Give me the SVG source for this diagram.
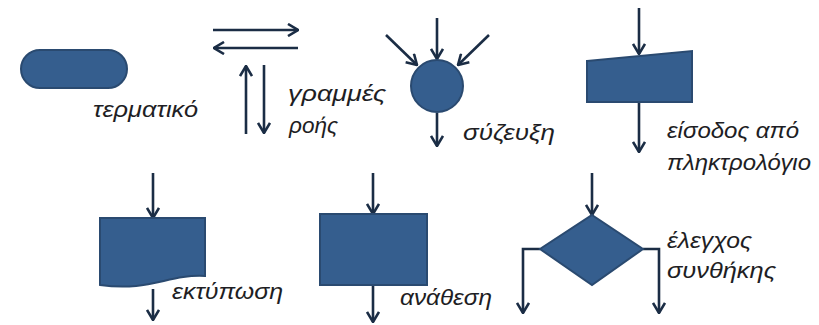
<svg xmlns="http://www.w3.org/2000/svg" width="819" height="325" viewBox="0 0 819 325">
  <style>
    .shape { fill: #355E8E; stroke: #2A4A70; stroke-width: 2; }
    .flow { fill: none; stroke: #1B2D45; stroke-width: 2.6; marker-end: url(#head); }
    .lbl { font-family: "Liberation Sans", "DejaVu Sans", sans-serif; font-style: italic; font-size: 23px; fill: #1E1E24; }
  </style>
  <defs>
    <marker id="head" viewBox="0 0 12 14" refX="11" refY="7" markerWidth="12" markerHeight="14" markerUnits="userSpaceOnUse" orient="auto">
      <path d="M1,1 L11,7 L1,13" fill="none" stroke="#1B2D45" stroke-width="2.6" stroke-linejoin="miter"/>
    </marker>
  </defs>

  <g id="connectors">
    <!-- flow-line samples -->
    <line class="flow" x1="213" y1="30" x2="298" y2="30"/>
    <line class="flow" x1="298" y1="48" x2="214" y2="48"/>
    <line class="flow" x1="246" y1="134" x2="246" y2="66"/>
    <line class="flow" x1="264" y1="65" x2="264" y2="133"/>
    <!-- junction inputs / output -->
    <line class="flow" x1="437" y1="18" x2="437" y2="59"/>
    <line class="flow" x1="386" y1="35" x2="417" y2="65"/>
    <line class="flow" x1="489" y1="35" x2="458" y2="65"/>
    <line class="flow" x1="437" y1="113" x2="437" y2="146"/>
    <!-- keyboard input -->
    <line class="flow" x1="639" y1="8" x2="639" y2="54"/>
    <line class="flow" x1="639" y1="102" x2="639" y2="152"/>
    <!-- print -->
    <line class="flow" x1="153" y1="173" x2="153" y2="218"/>
    <line class="flow" x1="153" y1="289" x2="153" y2="320"/>
    <!-- assignment -->
    <line class="flow" x1="373" y1="173" x2="373" y2="214"/>
    <line class="flow" x1="373" y1="285" x2="373" y2="322"/>
    <!-- condition -->
    <line class="flow" x1="592" y1="173" x2="592" y2="215"/>
    <polyline class="flow" points="540,249 523,249 523,313"/>
    <polyline class="flow" points="643,249 659,249 659,313"/>
  </g>

  <g id="terminal">
    <rect class="shape" x="21" y="50" width="106" height="38" rx="19" ry="19"/>
    <text class="lbl" x="93" y="117" textLength="105" lengthAdjust="spacingAndGlyphs">τερματικό</text>
  </g>

  <g id="flow-lines">
    <text class="lbl" x="288" y="101" textLength="98" lengthAdjust="spacingAndGlyphs">γραμμές</text>
    <text class="lbl" x="289" y="133" textLength="49" lengthAdjust="spacingAndGlyphs">ροής</text>
  </g>

  <g id="junction">
    <circle class="shape" cx="437" cy="86" r="26"/>
    <text class="lbl" x="463" y="140" textLength="92" lengthAdjust="spacingAndGlyphs">σύζευξη</text>
  </g>

  <g id="keyboard-input">
    <polygon class="shape" points="587,61 692,51 692,102 587,102"/>
    <text class="lbl" x="667" y="138" textLength="132" lengthAdjust="spacingAndGlyphs">είσοδος από</text>
    <text class="lbl" x="667" y="170" textLength="144" lengthAdjust="spacingAndGlyphs">πληκτρολόγιο</text>
  </g>

  <g id="print">
    <path class="shape" d="M100,218 L205,218 L205,276 C168,274 150,292 100,285 Z"/>
    <text class="lbl" x="172" y="299" textLength="111" lengthAdjust="spacingAndGlyphs">εκτύπωση</text>
  </g>

  <g id="assignment">
    <rect class="shape" x="320" y="214" width="107" height="71"/>
    <text class="lbl" x="400" y="305" textLength="92" lengthAdjust="spacingAndGlyphs">ανάθεση</text>
  </g>

  <g id="condition">
    <polygon class="shape" points="592,215 643,249 592,285 540,249"/>
    <text class="lbl" x="667" y="248" textLength="85" lengthAdjust="spacingAndGlyphs">έλεγχος</text>
    <text class="lbl" x="667" y="278" textLength="109" lengthAdjust="spacingAndGlyphs">συνθήκης</text>
  </g>
</svg>
